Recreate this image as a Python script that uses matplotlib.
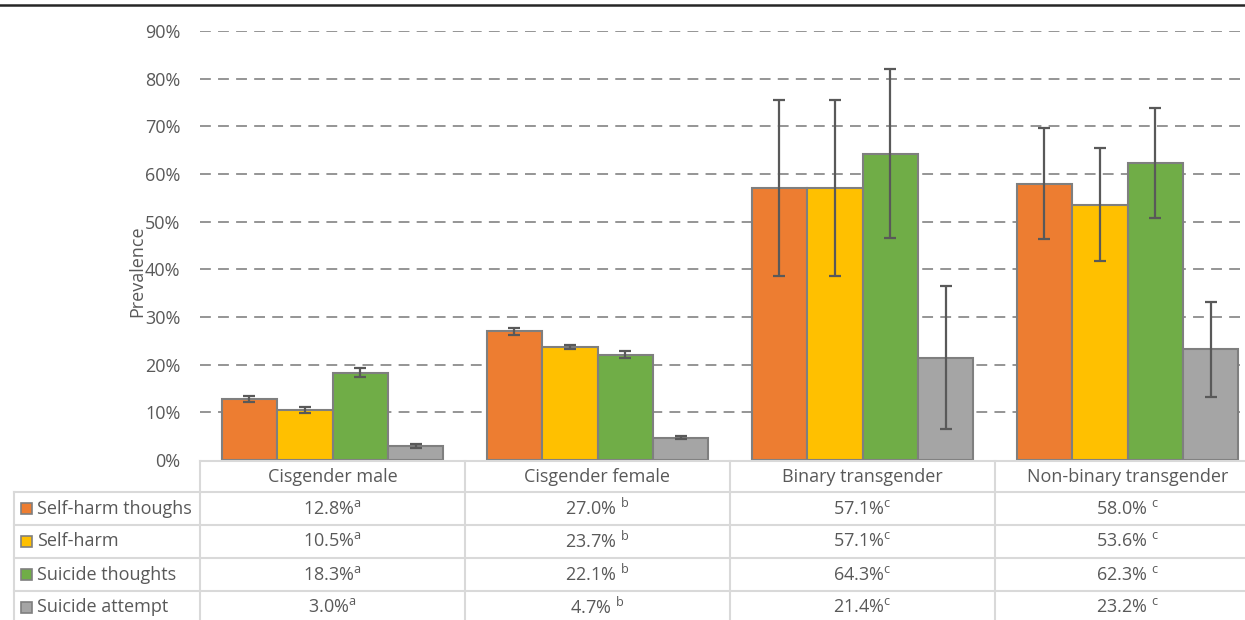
import matplotlib
matplotlib.use("Agg")
from matplotlib import pyplot as plt
from matplotlib.patches import Rectangle
import numpy as np

groups = ["Cisgender male", "Cisgender female", "Binary transgender", "Non-binary transgender"]
measures = ["Self-harm thoughs", "Self-harm", "Suicide thoughts", "Suicide attempt"]
colors = ["#ED7D31", "#FFC000", "#70AD47", "#A5A5A5"]

# prevalence (%) per measure, one value per group
self_harm_thoughts = [12.8, 27.0, 57.1, 58.0]
self_harm = [10.5, 23.7, 57.1, 53.6]
suicide_thoughts = [18.3, 22.1, 64.3, 62.3]
suicide_attempt = [3.0, 4.7, 21.4, 23.2]

# confidence intervals (%)
ci_low = [
    [12.1, 26.3, 38.7, 46.4],
    [9.9, 23.3, 38.7, 41.8],
    [17.4, 21.4, 46.6, 50.8],
    [2.6, 4.4, 6.4, 13.2],
]
ci_high = [
    [13.5, 27.7, 75.5, 69.6],
    [11.1, 24.1, 75.5, 65.4],
    [19.2, 22.8, 82.0, 73.8],
    [3.4, 5.0, 36.4, 33.2],
]

# superscript letters shown next to each value in the table
sig_letters = ["a", "b", "c", "c"]
sig_sep = ["", " ", "", " "]

values = [self_harm_thoughts, self_harm, suicide_thoughts, suicide_attempt]

FONT = "Open Sans"
TXT = "#595959"
FS = 13
plt.rcParams["font.family"] = [FONT, "DejaVu Sans"]
plt.rcParams["mathtext.fontset"] = "custom"
plt.rcParams["mathtext.rm"] = FONT

W, H = 1245, 620
fig = plt.figure(figsize=(W / 100, H / 100), dpi=100)

# plot area in pixels: x 200..1260 (runs off the right edge), y 31..460
px_left, px_right, px_top, px_bottom = 200, 1260, 31, 460
ax = fig.add_axes([px_left / W, 1 - px_bottom / H,
                   (px_right - px_left) / W, (px_bottom - px_top) / H])

n = len(groups)
bw = 0.2094
x0 = np.arange(n) + (1 - 4 * bw) / 2

for j in range(4):
    xs = x0 + bw * (j + 0.5)
    v = np.array(values[j]) / 100
    lo = v - np.array(ci_low[j]) / 100
    hi = np.array(ci_high[j]) / 100 - v
    ax.bar(xs, v, width=bw, color=colors[j], edgecolor="#7F7F7F", linewidth=1.5, zorder=2)
    ax.errorbar(xs, v, yerr=[lo, hi], fmt="none", ecolor="#595959",
                elinewidth=1.6, capsize=4, capthick=1.6, zorder=3)

ax.set_xlim(0, n)
ax.set_ylim(0, 0.9)
ax.set_yticks(np.arange(0, 0.91, 0.1))
ax.set_yticklabels([f"{int(round(t * 100))}%" for t in np.arange(0, 0.91, 0.1)])
ax.tick_params(axis="y", length=0, pad=14, labelsize=FS, labelcolor=TXT)
ax.set_xticks([])
for t in ax.get_yticks()[1:]:
    ax.axhline(t, color="#8C8C8C", linewidth=1.3, linestyle=(0, (6, 4)), zorder=1)
for s in ax.spines.values():
    s.set_visible(False)
ax.set_ylabel("Prevalence", fontsize=FS, color=TXT, labelpad=2)
ax.yaxis.set_label_coords(-0.051, 0.44)

# data table underneath, drawn in pixel coordinates
tab = fig.add_axes([0, 0, 1, 1])
tab.set_xlim(0, W)
tab.set_ylim(H, 0)
tab.axis("off")

grid_c = "#D9D9D9"
col_w = (px_right - px_left) / n
row_h = 33
head_top = 461
body_top = head_top + 31
lab_left = 14

tab.plot([px_left, W], [head_top, head_top], color=grid_c, lw=1.5)
tab.plot([lab_left, W], [body_top, body_top], color=grid_c, lw=1.5)
for r in range(1, 4):
    y = body_top + r * row_h
    tab.plot([lab_left, W], [y, y], color=grid_c, lw=1.5)
tab.plot([lab_left, lab_left], [body_top, H], color=grid_c, lw=1.5)
for i in range(n):
    x = px_left + i * col_w
    tab.plot([x, x], [head_top, H], color=grid_c, lw=1.5)

for i, g in enumerate(groups):
    cx = px_left + col_w * (i + 0.5)
    tab.text(cx, (head_top + body_top) / 2, g, ha="center", va="center",
             fontsize=FS, color=TXT)
    for j in range(4):
        cy = body_top + row_h * (j + 0.5)
        label = f"{values[j][i]:.1f}%{sig_sep[i]}$^{{\\mathrm{{{sig_letters[i]}}}}}$"
        tab.text(cx, cy, label, ha="center", va="center", fontsize=FS, color=TXT)

for j, m in enumerate(measures):
    cy = body_top + row_h * (j + 0.5)
    tab.add_patch(Rectangle((21, cy - 6), 11, 11, facecolor=colors[j],
                            edgecolor="#7F7F7F", linewidth=1.2))
    tab.text(37, cy, m, ha="left", va="center", fontsize=FS, color=TXT)

# thin rule along the top edge
tab.plot([0, W], [5, 5], color="#262626", lw=1.8)

fig.savefig("out.png", dpi=100)
